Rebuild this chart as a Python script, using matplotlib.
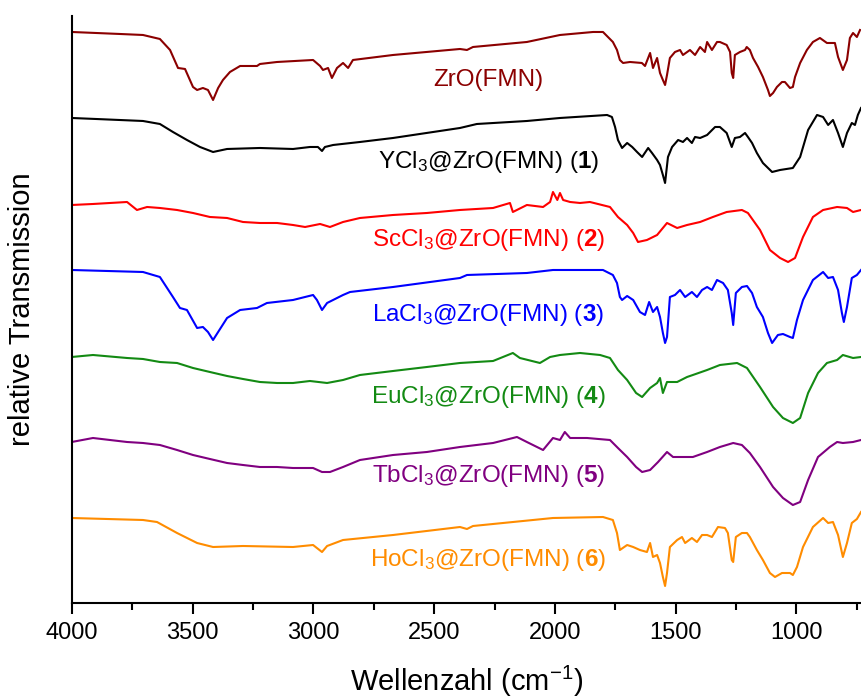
import matplotlib

matplotlib.use('Agg')
import matplotlib.pyplot as plt
from matplotlib.ticker import MultipleLocator

plt.rcParams['font.family'] = ['Liberation Sans', 'DejaVu Sans']
plt.rcParams['mathtext.fontset'] = 'custom'
plt.rcParams['mathtext.rm'] = 'Liberation Sans'
plt.rcParams['mathtext.it'] = 'Liberation Sans:italic'
plt.rcParams['mathtext.bf'] = 'Liberation Sans:bold'

# IR spectra, stacked (relative transmission, arbitrary units)
zro_wn = [4000, 3900, 3800, 3705, 3635, 3593, 3560, 3531, 3498, 3481, 3457, 3436, 3415, 3394, 3374, 3345,
          3303, 3233, 3221, 3150, 3001, 2972, 2960, 2939, 2923, 2902, 2877, 2856, 2836, 2670, 2393, 2364,
          2339, 2116, 1979, 1842, 1801, 1760, 1743, 1731, 1718, 1689, 1640, 1627, 1606, 1594, 1577, 1565,
          1553, 1544, 1536, 1524, 1503, 1482, 1470, 1441, 1420, 1399, 1379, 1370, 1350, 1329, 1317, 1289,
          1275, 1268, 1262, 1255, 1234, 1213, 1206, 1193, 1180, 1159, 1139, 1118, 1110, 1097, 1081, 1060,
          1048, 1027, 1015, 1006, 985, 957, 932, 903, 874, 841, 828, 808, 791, 779, 766, 750, 737]
zro_t = [571, 570, 569, 568, 564, 553, 535, 534, 516, 513, 515, 513, 503, 515, 523, 531,
         537, 537, 539, 541, 543, 537, 533, 535, 525, 535, 540, 535, 543, 548, 554, 553,
         556, 561, 568, 571, 571, 561, 553, 543, 540, 541, 540, 537, 550, 535, 545, 530,
         523, 518, 528, 545, 551, 553, 548, 553, 548, 556, 551, 561, 553, 561, 561, 558,
         551, 530, 525, 548, 551, 553, 556, 553, 545, 536, 526, 513, 507, 510, 516, 521,
         521, 515, 516, 526, 540, 553, 561, 565, 560, 560, 546, 533, 543, 565, 570, 566, 573]

y_wn = [4000, 3900, 3705, 3635, 3581, 3523, 3469, 3415, 3357, 3221, 3084, 3014, 2981, 2964, 2952, 2918,
        2807, 2670, 2393, 2323, 2116, 1979, 1784, 1764, 1751, 1739, 1722, 1701, 1680, 1660, 1639, 1614,
        1598, 1577, 1565, 1553, 1544, 1532, 1515, 1490, 1470, 1453, 1433, 1420, 1399, 1370, 1337, 1317,
        1289, 1268, 1255, 1234, 1213, 1201, 1184, 1164, 1139, 1101, 1068, 1015, 985, 952, 915, 890,
        869, 849, 828, 808, 791, 771, 758, 746, 733]
y_t = [485, 484, 482, 479, 471, 463, 456, 451, 454, 455, 454, 456, 456, 452, 456, 458,
       461, 465, 475, 479, 482, 485, 488, 486, 476, 463, 455, 460, 456, 451, 446, 455,
       450, 443, 438, 428, 420, 446, 456, 463, 461, 465, 460, 466, 465, 468, 476, 476,
       470, 456, 465, 466, 470, 466, 460, 450, 440, 431, 433, 435, 446, 473, 488, 486,
       478, 483, 470, 456, 470, 480, 478, 488, 495]

sc_wn = [4000, 3912, 3771, 3730, 3688, 3635, 3564, 3498, 3428, 3357, 3291, 3221, 3150, 3084, 3034, 2972,
         2931, 2877, 2807, 2670, 2530, 2393, 2256, 2186, 2174, 2116, 2049, 2020, 2008, 1990, 1979, 1966,
         1937, 1896, 1855, 1772, 1739, 1701, 1676, 1656, 1619, 1577, 1536, 1494, 1453, 1399, 1346, 1289,
         1226, 1201, 1151, 1110, 1068, 1035, 1006, 973, 932, 890, 832, 791, 766, 733]
sc_t = [398, 399, 401, 393, 396, 395, 393, 390, 386, 385, 381, 380, 380, 378, 376, 379,
        376, 381, 385, 388, 390, 393, 395, 400, 391, 398, 396, 401, 411, 403, 410, 403,
        401, 400, 401, 396, 386, 378, 370, 361, 363, 368, 380, 375, 378, 381, 386, 391,
        393, 390, 373, 353, 345, 341, 345, 366, 386, 393, 396, 395, 391, 393]

la_wn = [4000, 3705, 3635, 3581, 3552, 3523, 3481, 3457, 3436, 3415, 3394, 3357, 3303, 3233, 3192, 3084,
         3001, 2985, 2964, 2943, 2877, 2848, 2670, 2393, 2364, 2116, 2008, 1801, 1760, 1743, 1731, 1722,
         1701, 1676, 1648, 1627, 1610, 1594, 1577, 1565, 1553, 1544, 1536, 1524, 1503, 1482, 1461, 1433,
         1412, 1391, 1370, 1350, 1329, 1304, 1284, 1268, 1262, 1251, 1226, 1205, 1184, 1164, 1139, 1118,
         1101, 1077, 1056, 1027, 1015, 998, 973, 932, 890, 869, 849, 828, 812, 804, 791, 771, 750, 733]
la_t = [333, 331, 326, 306, 295, 293, 275, 276, 271, 263, 271, 285, 293, 295, 300, 303,
        308, 303, 293, 300, 308, 311, 316, 325, 328, 330, 333, 333, 328, 320, 306, 303,
        307, 303, 291, 288, 301, 291, 296, 286, 270, 260, 266, 306, 308, 313, 306, 311,
        306, 313, 316, 313, 323, 320, 313, 290, 278, 310, 316, 317, 310, 296, 286, 270,
        260, 268, 269, 266, 265, 283, 303, 323, 331, 325, 326, 313, 290, 281, 296, 325, 328, 333]

eu_wn = [4000, 3912, 3771, 3705, 3635, 3564, 3498, 3428, 3357, 3291, 3221, 3150, 3084, 3014, 2943, 2877,
         2807, 2670, 2530, 2393, 2256, 2174, 2145, 2062, 2020, 1979, 1896, 1813, 1772, 1739, 1701, 1664,
         1639, 1606, 1577, 1565, 1553, 1536, 1494, 1453, 1429, 1370, 1317, 1246, 1205, 1151, 1097, 1056,
         1015, 985, 952, 911, 874, 832, 808, 766, 733]
eu_t = [246, 248, 245, 244, 241, 240, 235, 231, 227, 224, 221, 220, 220, 222, 220, 223,
        228, 232, 236, 240, 242, 250, 245, 240, 246, 248, 250, 248, 245, 233, 223, 210,
        206, 215, 220, 225, 210, 221, 221, 226, 228, 233, 238, 240, 235, 216, 196, 185,
        180, 185, 210, 230, 240, 243, 248, 245, 246]

tb_wn = [4000, 3912, 3771, 3705, 3635, 3564, 3498, 3428, 3357, 3291, 3221, 3150, 3084, 3001, 2964, 2931,
         2877, 2807, 2670, 2530, 2393, 2256, 2157, 2116, 2049, 2008, 1979, 1959, 1937, 1867, 1772, 1739,
         1701, 1664, 1639, 1606, 1573, 1536, 1511, 1474, 1429, 1370, 1317, 1262, 1226, 1193, 1151, 1097,
         1056, 1015, 985, 952, 911, 862, 832, 808, 766, 733]
tb_t = [161, 165, 161, 160, 158, 153, 148, 144, 140, 138, 136, 136, 135, 135, 131, 131,
        136, 143, 148, 151, 156, 160, 166, 161, 153, 165, 163, 171, 165, 165, 163, 155,
        146, 136, 131, 133, 141, 151, 146, 146, 146, 151, 156, 160, 158, 150, 136, 116,
        105, 98, 101, 123, 146, 156, 161, 160, 161, 163]

ho_wn = [4000, 3705, 3647, 3564, 3481, 3415, 3291, 3084, 3001, 2964, 2943, 2877, 2670, 2393, 2364, 2339,
         2008, 1801, 1760, 1743, 1731, 1701, 1676, 1648, 1619, 1606, 1594, 1577, 1565, 1553, 1544, 1536,
         1524, 1494, 1474, 1461, 1433, 1412, 1391, 1370, 1350, 1325, 1296, 1284, 1268, 1262, 1251, 1226,
         1205, 1193, 1164, 1139, 1110, 1089, 1060, 1027, 1015, 998, 973, 932, 890, 869, 849, 828,
         808, 791, 771, 750, 733]
ho_t = [85, 83, 81, 70, 60, 56, 57, 56, 58, 51, 57, 63, 68, 76, 74, 77,
        85, 86, 83, 70, 53, 58, 56, 53, 51, 60, 46, 48, 40, 26, 17, 30,
        56, 63, 66, 60, 65, 61, 68, 68, 66, 76, 75, 70, 43, 41, 66, 70,
        70, 66, 53, 43, 30, 26, 30, 30, 28, 36, 56, 76, 85, 80, 81, 68,
        46, 60, 80, 84, 91]

series = [
    (zro_wn, zro_t, '#8b0000', r'ZrO(FMN)', 517),
    (y_wn, y_t, '#000000', r'YCl$_3$@ZrO(FMN) ($\mathbf{1}$)', 435),
    (sc_wn, sc_t, '#ff0000', r'ScCl$_3$@ZrO(FMN) ($\mathbf{2}$)', 357),
    (la_wn, la_t, '#0000ff', r'LaCl$_3$@ZrO(FMN) ($\mathbf{3}$)', 282),
    (eu_wn, eu_t, '#138a13', r'EuCl$_3$@ZrO(FMN) ($\mathbf{4}$)', 200),
    (tb_wn, tb_t, '#800080', r'TbCl$_3$@ZrO(FMN) ($\mathbf{5}$)', 121),
    (ho_wn, ho_t, '#ff8c00', r'HoCl$_3$@ZrO(FMN) ($\mathbf{6}$)', 37),
]
label_x = 2275

fig = plt.figure(figsize=(8.61, 6.98), dpi=100)
ax = fig.add_axes([0.0833, 0.1361, 0.9167, 0.841])

for wn, t, color, name, ly in series:
    ax.plot(wn, t, color=color, lw=1.5)
    ax.text(label_x, ly, name, color=color, fontsize=17.5, ha='center', va='baseline')

ax.set_xlim(4000, 733)
ax.set_ylim(0, 587)
ax.xaxis.set_major_locator(MultipleLocator(500))
ax.xaxis.set_minor_locator(MultipleLocator(250))
ax.set_yticks([])
for side in ['top', 'right']:
    ax.spines[side].set_visible(False)
for side in ['left', 'bottom']:
    ax.spines[side].set_linewidth(1.5)
ax.tick_params(axis='x', which='major', direction='out', length=8, width=1.5, labelsize=17, pad=6)
ax.tick_params(axis='x', which='minor', direction='out', length=5, width=1.5)

ax.set_xlabel(r'Wellenzahl (cm$^{-1}$)', fontsize=21, labelpad=14)
ax.set_ylabel('relative Transmission', fontsize=21, labelpad=26)

fig.savefig('out.png', dpi=100)
